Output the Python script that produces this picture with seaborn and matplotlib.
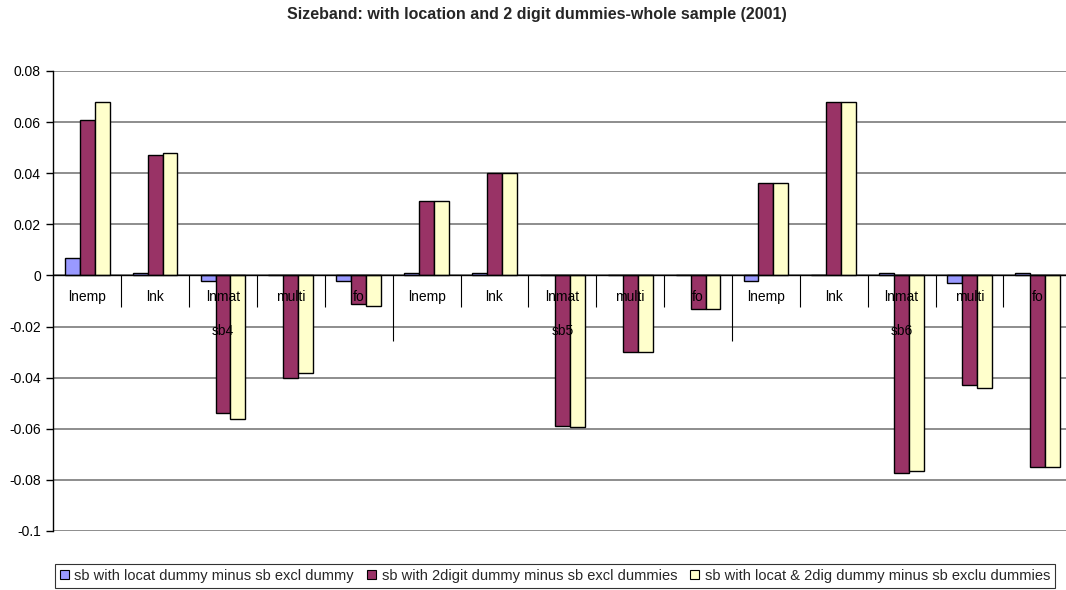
import matplotlib
matplotlib.use("Agg")
import matplotlib.pyplot as plt
from matplotlib.patches import Patch
from matplotlib.ticker import FuncFormatter, MultipleLocator
import numpy as np
import pandas as pd
import seaborn as sns

# Data
variables = ["lnemp", "lnk", "lnmat", "multi", "fo"]
sizebands = ["sb4", "sb5", "sb6"]
series_names = [
    "sb with locat dummy minus sb excl dummy",
    "sb with 2digit dummy minus sb excl dummies",
    "sb with locat & 2dig dummy minus sb exclu dummies",
]
locat_minus_excl = [0.007, 0.001, -0.002, 0.0, -0.002,
                    0.001, 0.001, 0.0, 0.0, 0.0,
                    -0.002, 0.0, 0.001, -0.003, 0.001]
digit2_minus_excl = [0.061, 0.047, -0.054, -0.040, -0.011,
                     0.029, 0.040, -0.059, -0.030, -0.013,
                     0.036, 0.068, -0.0775, -0.043, -0.075]
both_minus_excl = [0.068, 0.048, -0.056, -0.038, -0.012,
                   0.029, 0.040, -0.0595, -0.030, -0.013,
                   0.036, 0.068, -0.0765, -0.044, -0.075]
colors = ["#9999FF", "#993366", "#FFFFCC"]

n_var = len(variables)
slots = [f"{sb}_{v}" for sb in sizebands for v in variables]
df = pd.DataFrame({
    "slot": slots * 3,
    "value": locat_minus_excl + digit2_minus_excl + both_minus_excl,
    "series": np.repeat(series_names, len(slots)),
})

sns.set_style("white")
plt.rcParams["font.family"] = ["Liberation Sans", "DejaVu Sans"]

fig = plt.figure(figsize=(10.66, 5.90), dpi=100)
# plot area runs a little past the right edge of the canvas
ax = fig.add_axes([53.3 / 1066, 0.10, 0.955, 0.7797])

sns.barplot(data=df, x="slot", y="value", hue="series", order=slots,
            hue_order=series_names, palette=colors, width=0.66,
            edgecolor="black", linewidth=1.0, saturation=1, ax=ax,
            legend=False)

ymin, ymax = -0.1, 0.08
ax.set_xlim(-0.5, len(slots) - 0.5)
ax.set_ylim(ymin, ymax)
ax.yaxis.set_major_locator(MultipleLocator(0.02))
ax.yaxis.set_major_formatter(FuncFormatter(
    lambda v, p: "0" if abs(v) < 1e-9 else f"{v:.2f}".rstrip("0")))
ax.grid(axis="y", color="#7a7a7a", linewidth=1.2)
ax.set_axisbelow(True)
ax.set_xlabel("")
ax.set_ylabel("")
ax.set_xticks([])
for s in ["top", "right", "bottom"]:
    ax.spines[s].set_visible(False)
ax.spines["left"].set_color("black")
ax.spines["left"].set_linewidth(1.0)
ax.tick_params(axis="y", which="major", left=True, length=5, width=1,
               color="black", labelsize=10, pad=4, labelcolor="black")

# zero axis line
ax.axhline(0, color="black", linewidth=1.0, zorder=3)

# multi-level category axis hanging from the zero line
fig.canvas.draw()
units_per_px = (ymax - ymin) / ax.get_window_extent().height
def below_zero(pixels):
    return -pixels * units_per_px

lab_y = below_zero(22)
grp_y = below_zero(56)
tick_short = below_zero(32)
tick_long = below_zero(66)
for i, name in enumerate(slots):
    var = name.split("_", 1)[1]
    ax.text(i, lab_y, var, ha="center", va="center", fontsize=10,
            color="black", zorder=5)
for k in range(1, len(slots)):
    bottom = tick_long if k % n_var == 0 else tick_short
    ax.plot([k - 0.5, k - 0.5], [0, bottom], color="black", lw=0.8,
            zorder=2, solid_capstyle="butt")
for g, sb in enumerate(sizebands):
    ax.text(g * n_var + (n_var - 1) / 2, grp_y, sb, ha="center", va="center",
            fontsize=10, color="black", zorder=5)

# title
fig.text(537 / 1066, 1 - 15 / 590,
         "Sizeband: with location and 2 digit dummies-whole sample (2001)",
         ha="center", va="center", fontsize=11.5, fontweight="bold")

# legend
handles = [Patch(facecolor=c, edgecolor="black", linewidth=0.8) for c in colors]
leg = fig.legend(handles, series_names, loc="center", ncol=3,
                 bbox_to_anchor=(555 / 1066, 1 - 576 / 590), fontsize=10.5,
                 frameon=True, fancybox=False, edgecolor="black",
                 handlelength=0.6, handleheight=0.6, handletextpad=0.4,
                 columnspacing=0.9, borderpad=0.35)
leg.get_frame().set_linewidth(0.8)

fig.savefig("out.png", dpi=100)
